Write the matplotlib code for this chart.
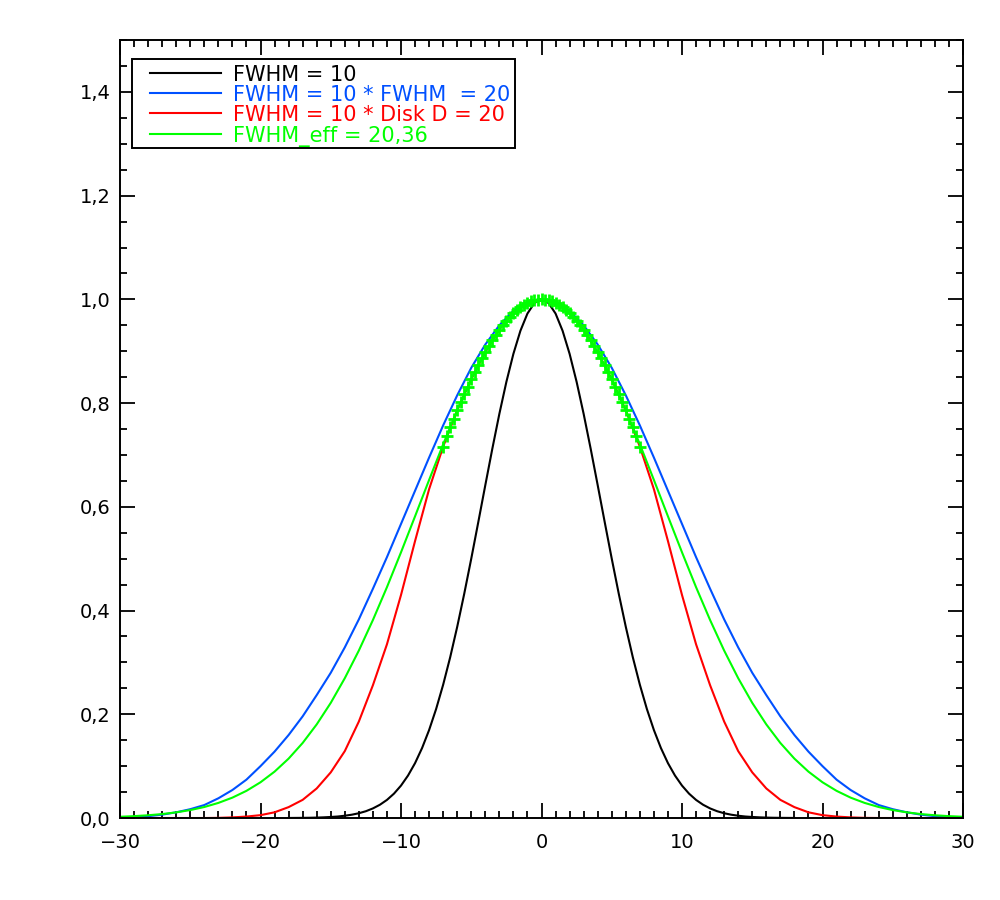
import numpy as np
import matplotlib
matplotlib.use("Agg")
import matplotlib.pyplot as plt
from matplotlib.lines import Line2D
from matplotlib.patches import Rectangle
from matplotlib.ticker import MultipleLocator

# curves sampled at integer x, read from x = 0 to 30 (the profiles are symmetric)
blue_half = [1.0, 0.994, 0.978, 0.950, 0.913, 0.868, 0.815, 0.757, 0.695, 0.631,
             0.567, 0.503, 0.442, 0.383, 0.329, 0.280, 0.237, 0.196, 0.160, 0.128,
             0.100, 0.074, 0.054, 0.038, 0.025, 0.017, 0.011, 0.0065, 0.0035, 0.002, 0.001]
red_half = [1.0, 0.993, 0.974, 0.942, 0.898, 0.846, 0.786, 0.716, 0.634, 0.534,
            0.430, 0.335, 0.256, 0.186, 0.129, 0.088, 0.057, 0.035, 0.021, 0.011,
            0.0055, 0.0028, 0.0012, 0.0003, 0.0, 0.0, 0.0, 0.0, 0.0, 0.0, 0.0]
green_half = [1.0, 0.9933, 0.9736, 0.9416, 0.8985, 0.8460, 0.7860, 0.7206, 0.6518, 0.5817,
              0.5123, 0.4451, 0.3817, 0.3229, 0.2696, 0.2220, 0.1805, 0.1447, 0.1145, 0.0894,
              0.0689, 0.0524, 0.0393, 0.0291, 0.0212, 0.0153, 0.0109, 0.0076, 0.0053, 0.0036, 0.0024]

# narrow profile, half-unit steps from 0 to 18
black_half = [1.0, 0.9931, 0.9727, 0.9395, 0.8950, 0.8409, 0.7792, 0.7120, 0.6417, 0.5704,
              0.5000, 0.4323, 0.3686, 0.3099, 0.2570, 0.2102, 0.1696, 0.1349, 0.1058, 0.0819,
              0.0625, 0.0470, 0.0349, 0.0256, 0.0185, 0.0131, 0.0092, 0.0064, 0.0044, 0.0029,
              0.0020, 0.0013, 0.0008, 0.0005, 0.0003, 0.0002, 0.0001]

# fitted points (crosses), quarter-unit steps from 0 to 7
pts_half = [1.0, 0.9996, 0.9983, 0.9962, 0.9933, 0.9896, 0.9851, 0.9797, 0.9736, 0.9667,
            0.9591, 0.9507, 0.9416, 0.9318, 0.9213, 0.9102, 0.8985, 0.8862, 0.8733, 0.8599,
            0.8460, 0.8316, 0.8168, 0.8016, 0.7860, 0.7699, 0.7534, 0.7365, 0.7160]

labels = ["FWHM = 10", "FWHM = 10 * FWHM  = 20", "FWHM = 10 * Disk D = 20", "FWHM_eff = 20,36"]
colors = ["black", "#0050ff", "#ff0000", "#00ff00"]


def mirror(half):
    return half[:0:-1] + half


x1 = np.arange(-30, 31, 1.0)
x_black = np.arange(-18, 18.5, 0.5)
x_pts = np.arange(-7, 7.25, 0.25)

fig = plt.figure(figsize=(10, 9), dpi=100)
ax = fig.add_axes([0.12, 0.0911, 0.843, 0.8644])

ax.plot(x_black, mirror(black_half), color=colors[0], lw=1.5)
ax.plot(x1, mirror(blue_half), color=colors[1], lw=1.5)
ax.plot(x1, mirror(red_half), color=colors[2], lw=1.5)
ax.plot(x1, mirror(green_half), color=colors[3], lw=1.5)
ax.plot(x_pts, mirror(pts_half), ls="none", marker="+", ms=8, mew=2, color=colors[3])

ax.set_xlim(-30, 30)
ax.set_ylim(0, 1.5)

xt = [-30, -20, -10, 0, 10, 20, 30]
ax.set_xticks(xt)
ax.set_xticklabels([str(v).replace("-", "\u2212") for v in xt])
yt = [0.0, 0.2, 0.4, 0.6, 0.8, 1.0, 1.2, 1.4]
ax.set_yticks(yt)
ax.set_yticklabels([f"{v:.1f}".replace(".", ",") for v in yt])
ax.xaxis.set_minor_locator(MultipleLocator(1))
ax.yaxis.set_minor_locator(MultipleLocator(0.05))

ax.tick_params(which="both", direction="in", top=True, right=True, width=1.3, labelsize=14)
ax.tick_params(which="major", length=11)
ax.tick_params(which="minor", length=5)
ax.tick_params(axis="x", pad=11)
ax.tick_params(axis="y", pad=7)
for s in ax.spines.values():
    s.set_linewidth(1.4)

# IDL-style legend box drawn by hand (axes fraction coordinates)
ax.add_patch(Rectangle((0.0142, 0.8612), 0.4544, 0.1144, transform=ax.transAxes,
                       fill=True, facecolor="white", edgecolor="black", lw=1.4, zorder=5))
row_y = [0.9572, 0.9315, 0.9058, 0.8795]
for yy, lab, c in zip(row_y, labels, colors):
    ax.add_line(Line2D([0.0356, 0.1198], [yy, yy], transform=ax.transAxes,
                       color=c, lw=1.5, zorder=6))
    ax.text(0.134, yy, lab, transform=ax.transAxes, color=c, fontsize=15,
            va="center_baseline", ha="left", zorder=6)

fig.savefig("out.png", dpi=100)
